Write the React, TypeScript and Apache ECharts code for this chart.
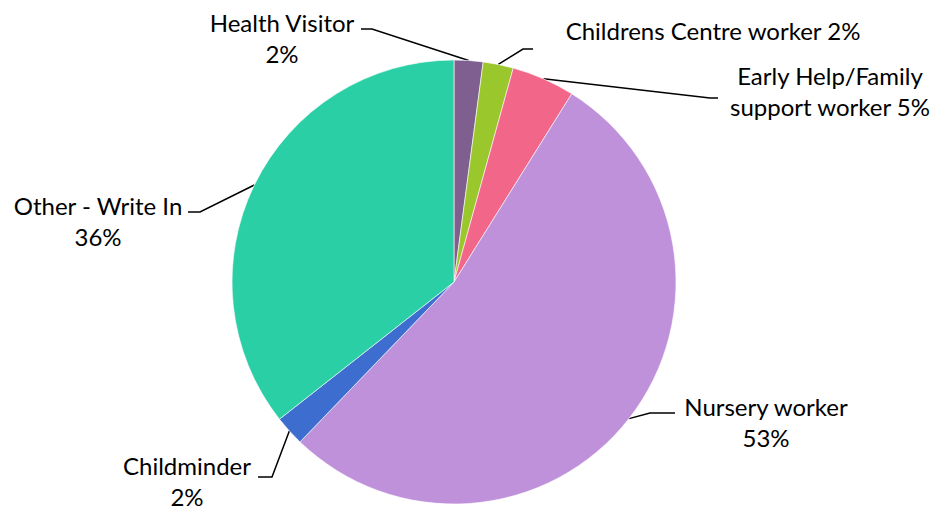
import React, { useEffect, useRef } from "react";
import * as echarts from "echarts";

const categories = [
  "Health Visitor",
  "Childrens Centre worker",
  "Early Help/Family support worker",
  "Nursery worker",
  "Childminder",
  "Other - Write In",
];
const values = [2.1, 2.2, 4.6, 53.3, 2.2, 35.6];
const labelTexts = [
  "Health Visitor\n",
  "Childrens Centre worker ",
  "Early Help/Family\nsupport worker ",
  "Nursery worker\n",
  "Childminder\n",
  "Other - Write In\n",
];
const colors = ["#7E5F8F", "#9AC72B", "#F26689", "#BF91DA", "#3D6ECF", "#2BCFA5"];

// label anchor (centre of text block) and label-line elbow / end points
const labelAnchors = [
  [282, 38],
  [713, 30],
  [830, 91],
  [766, 422],
  [187, 481],
  [98, 221],
];
const lineElbows = [
  [[372, 29], [361, 29]],
  [[523, 49], [533, 49]],
  [[710, 98], [718, 98]],
  [[650, 413], [675, 413]],
  [[272, 477], [258, 477]],
  [[200, 212], [188, 212]],
];

export default function App() {
  const ref = useRef<HTMLDivElement>(null);
  useEffect(() => {
    document.body.style.margin = "0";
    const chart = echarts.init(ref.current!, undefined, { renderer: "svg" });
    chart.setOption({
      animation: false,
      backgroundColor: "#ffffff",
      series: [
        {
          type: "pie",
          center: [454, 282],
          radius: 222,
          startAngle: 90,
          clockwise: true,
          color: colors,
          itemStyle: { borderColor: "#ffffff", borderWidth: 0.6 },
          data: categories.map((c, i) => ({ name: c, value: values[i] })),
          label: {
            show: true,
            position: "outside",
            formatter: (p: any) => `${labelTexts[p.dataIndex]}${Math.round(p.percent)}%`,
            fontFamily: "Lato",
            fontSize: 24,
            lineHeight: 31,
            color: "#000000",
            align: "center",
            overflow: "none",
          },
          labelLine: {
            show: true,
            length: 10,
            length2: 10,
            lineStyle: { color: "#000000", width: 1.5 },
          },
          labelLayout: (params: any) => {
            const i = params.dataIndex;
            const start = params.labelLinePoints ? params.labelLinePoints[0] : [454, 282];
            return {
              x: labelAnchors[i][0],
              y: labelAnchors[i][1],
              align: "center",
              verticalAlign: "middle",
              labelLinePoints: [start, lineElbows[i][0], lineElbows[i][1]],
            };
          },
        },
      ],
    });
    return () => chart.dispose();
  }, []);
  return <div ref={ref} style={{ width: 939, height: 512 }} />;
}
